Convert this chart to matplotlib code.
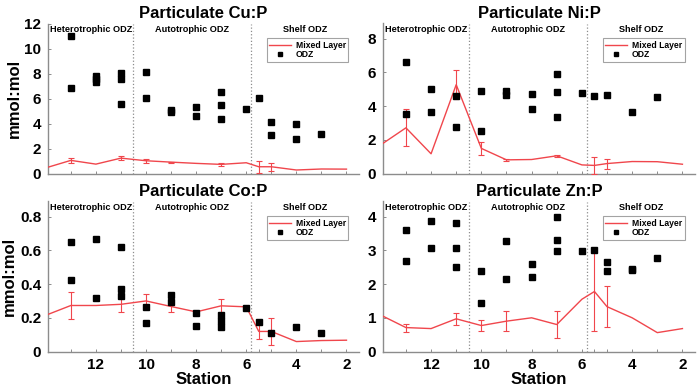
import numpy as np
import matplotlib
matplotlib.use("Agg")
import matplotlib.pyplot as plt
from matplotlib.ticker import FixedLocator, FixedFormatter
from matplotlib.lines import Line2D

plt.rcParams['font.family'] = ['Liberation Sans', 'DejaVu Sans']
plt.rcParams['font.weight'] = 'bold'

# ---- data ----
ml_st = [14, 13, 12, 11, 10, 9, 8, 7, 6, 5.5, 5, 4, 3, 2]

cu_ml = [0.45, 1.05, 0.75, 1.23, 1.02, 0.91, 0.81, 0.73, 0.86, 0.54, 0.54, 0.28, 0.36, 0.35]
cu_ml_err = [0, 0.17, 0, 0.17, 0.16, 0.05, 0, 0.13, 0, 0.5, 0.33, 0, 0, 0]
cu_odz_st = [13, 13, 12, 12, 12, 11, 11, 11, 10, 10, 9, 9, 8, 8, 7, 7, 7, 6, 5.5, 5, 5, 4, 4, 3]
cu_odz = [11.0, 6.87, 7.8, 7.55, 7.35, 8.08, 7.57, 5.58, 8.16, 6.07, 5.05, 4.95, 5.34, 4.64,
          6.5, 5.48, 4.35, 5.18, 6.04, 4.16, 3.06, 3.97, 2.77, 3.17]

ni_ml = [1.7, 2.71, 1.17, 5.27, 1.49, 0.81, 0.83, 1.05, 0.51, 0.48, 0.59, 0.71, 0.70, 0.55]
ni_ml_err = [0, 1.1, 0, 0.86, 0.38, 0.05, 0, 0.06, 0, 0.52, 0.3, 0, 0, 0]
ni_odz_st = [13, 13, 12, 12, 11, 11, 10, 10, 9, 9, 8, 8, 7, 7, 7, 6, 5.5, 5, 4, 3]
ni_odz = [6.59, 3.52, 4.99, 3.64, 4.57, 2.75, 4.89, 2.53, 4.9, 4.65, 4.71, 3.82,
          5.92, 4.83, 3.35, 4.79, 4.59, 4.67, 3.62, 4.55]

co_ml = [0.215, 0.273, 0.273, 0.28, 0.30, 0.267, 0.235, 0.271, 0.265, 0.119, 0.119, 0.059, 0.065, 0.067]
co_ml_err = [0, 0.082, 0, 0.045, 0.04, 0.035, 0, 0.043, 0, 0.045, 0.08, 0, 0, 0]
co_odz_st = [13, 13, 12, 12, 11, 11, 11, 10, 10, 9, 9, 8, 8, 7, 7, 7, 6, 5.5, 5, 4, 3]
co_odz = [0.652, 0.427, 0.67, 0.32, 0.619, 0.368, 0.332, 0.263, 0.17, 0.334, 0.296,
          0.231, 0.154, 0.215, 0.182, 0.146, 0.261, 0.174, 0.107, 0.144, 0.111]

zn_ml = [1.08, 0.71, 0.68, 0.97, 0.77, 0.90, 1.0, 0.80, 1.55, 1.78, 1.33, 1.0, 0.56, 0.68]
zn_ml_err = [0, 0.12, 0, 0.18, 0.16, 0.3, 0, 0.4, 0, 1.16, 0.6, 0, 0, 0]
zn_odz_st = [13, 13, 12, 12, 11, 11, 11, 10, 10, 9, 9, 8, 8, 7, 7, 7, 6, 5.5, 5, 5, 4, 4, 3]
zn_odz = [3.6, 2.68, 3.88, 3.07, 3.8, 3.08, 2.52, 2.38, 1.45, 3.27, 2.15, 2.59, 2.21,
          3.99, 3.32, 2.97, 2.99, 3.02, 2.65, 2.38, 2.46, 2.42, 2.76]

titles = ['Particulate Cu:P', 'Particulate Ni:P', 'Particulate Co:P', 'Particulate Zn:P']
zones = ['Heterotrophic ODZ', 'Autotrophic ODZ', 'Shelf ODZ']
zone_bounds = [10.5, 5.8]
x_ticks = [13, 12, 11, 10, 9, 8, 7, 6, 5.5, 5, 4, 3, 2]
x_labels = ['', '12', '', '10', '', '8', '', '6', '', '', '4', '', '2']

panels = [
    dict(ml=cu_ml, err=cu_ml_err, ost=cu_odz_st, odz=cu_odz, ylim=12.0,
         yt=[0, 2, 4, 6, 8, 10, 12], ytl=['0', '2', '4', '6', '8', '10', '12']),
    dict(ml=ni_ml, err=ni_ml_err, ost=ni_odz_st, odz=ni_odz, ylim=8.9,
         yt=[0, 2, 4, 6, 8], ytl=['0', '2', '4', '6', '8']),
    dict(ml=co_ml, err=co_ml_err, ost=co_odz_st, odz=co_odz, ylim=0.89,
         yt=[0, 0.2, 0.4, 0.6, 0.8], ytl=['0', '0.2', '0.4', '0.6', '0.8']),
    dict(ml=zn_ml, err=zn_ml_err, ost=zn_odz_st, odz=zn_odz, ylim=4.45,
         yt=[0, 1, 2, 3, 4], ytl=['0', '1', '2', '3', '4']),
]

RED = '#F0464C'
GRAY = '#8c8c8c'
XLIM = (13.9, 1.5)

fig = plt.figure(figsize=(7.0, 3.89), dpi=100)
W, H = 700.0, 389.0
lefts = [48.3, 383.3]
widths = [359 - 48.3, 695 - 383.3]
tops = [23.5, 201.5]
ah = 150.0

for i, p in enumerate(panels):
    r, c = divmod(i, 2)
    ax = fig.add_axes([lefts[c] / W, 1 - (tops[r] + ah) / H, widths[c] / W, ah / H])
    ax.set_xlim(*XLIM)
    ax.set_ylim(0, p['ylim'])

    st = np.array(ml_st, dtype=float)
    ml = np.array(p['ml'])
    err = np.array(p['err'])
    ax.plot(st, ml, color=RED, lw=1.0, zorder=3, label='Mixed Layer')
    m = err > 0
    ax.errorbar(st[m], ml[m], yerr=err[m], fmt='none', ecolor=RED, elinewidth=0.8,
                capsize=2.5, capthick=0.8, zorder=3)
    ax.plot(p['ost'], p['odz'], 's', color='black', ms=4.4, ls='none', zorder=4, label='ODZ')

    for b in zone_bounds:
        ax.axvline(b, color=GRAY, ls=':', lw=0.9, zorder=1)
    bounds = [XLIM[0]] + zone_bounds + [XLIM[1]]
    for k, z in enumerate(zones):
        xc = (bounds[k] + bounds[k + 1]) / 2
        ax.text(xc, 0.99, z, transform=ax.get_xaxis_transform(), ha='center', va='top',
                fontsize=6.6, fontweight='bold')

    for s in ['top', 'right']:
        ax.spines[s].set_visible(False)
    for s in ['left', 'bottom']:
        ax.spines[s].set_color(GRAY)
        ax.spines[s].set_linewidth(1.0)

    ax.xaxis.set_major_locator(FixedLocator(x_ticks))
    if r == 1:
        ax.xaxis.set_major_formatter(FixedFormatter(x_labels))
        ax.set_xlabel('Station', fontsize=12, fontweight='bold', labelpad=0)
    else:
        ax.xaxis.set_major_formatter(FixedFormatter([''] * len(x_ticks)))
    ax.yaxis.set_major_locator(FixedLocator(p['yt']))
    ax.yaxis.set_major_formatter(FixedFormatter(p['ytl']))
    ax.tick_params(direction='in', length=2.5, width=0.7, color=GRAY, labelsize=11, pad=5)
    for lab in ax.get_xticklabels() + ax.get_yticklabels():
        lab.set_fontweight('bold')
    if c == 0:
        ax.set_ylabel('mmol:mol', fontsize=12, fontweight='bold', labelpad=2)
    ax.set_title(titles[i], fontsize=12, fontweight='bold', pad=4)

    handles = [Line2D([], [], color=RED, lw=1.0),
               Line2D([], [], marker='s', color='black', ls='none', ms=3.0)]
    leg = ax.legend(handles, ['Mixed Layer', 'ODZ'], loc='upper right',
                    bbox_to_anchor=(1 - 10.5 / widths[c], 1 - 14.5 / ah),
                    prop={'size': 6.2, 'weight': 'bold'}, frameon=True, fancybox=False,
                    borderpad=0.3, labelspacing=0.05, handlelength=2.6, handletextpad=0.5,
                    borderaxespad=0)
    leg.get_frame().set_edgecolor(GRAY)
    leg.get_frame().set_linewidth(0.8)

fig.savefig('out.png', dpi=100)
